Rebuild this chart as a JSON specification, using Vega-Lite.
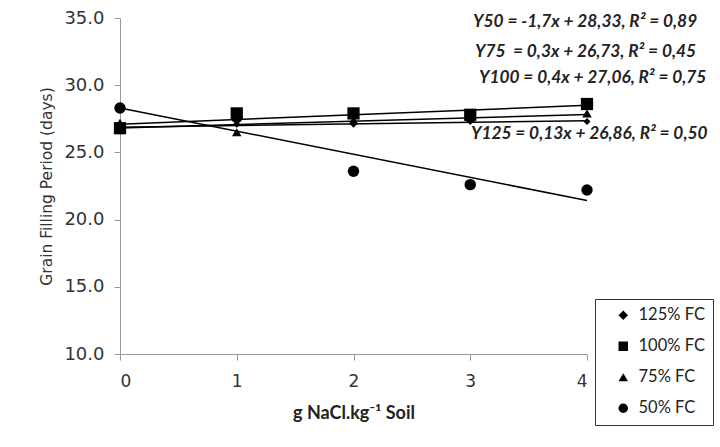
{
  "$schema": "https://vega.github.io/schema/vega-lite/v6.json",
  "autosize": "none",
  "width": 467,
  "height": 336,
  "padding": {"left": 120, "top": 18, "right": 133, "bottom": 93},
  "background": "white",
  "config": {"view": {"stroke": null}, "font": "Lato"},
  "datasets": {
    "pts": [
      {"x": 0, "y": 26.8, "s": "125% FC"},
      {"x": 1, "y": 27.1, "s": "125% FC"},
      {"x": 2, "y": 27.1, "s": "125% FC"},
      {"x": 3, "y": 27.3, "s": "125% FC"},
      {"x": 4, "y": 27.3, "s": "125% FC"},
      {"x": 0, "y": 26.8, "s": "100% FC"},
      {"x": 1, "y": 27.9, "s": "100% FC"},
      {"x": 2, "y": 27.9, "s": "100% FC"},
      {"x": 3, "y": 27.8, "s": "100% FC"},
      {"x": 4, "y": 28.6, "s": "100% FC"},
      {"x": 0, "y": 27.2, "s": "75% FC"},
      {"x": 1, "y": 26.5, "s": "75% FC"},
      {"x": 2, "y": 27.4, "s": "75% FC"},
      {"x": 3, "y": 27.6, "s": "75% FC"},
      {"x": 4, "y": 27.9, "s": "75% FC"},
      {"x": 0, "y": 28.3, "s": "50% FC"},
      {"x": 1, "y": 27.6, "s": "50% FC"},
      {"x": 2, "y": 23.6, "s": "50% FC"},
      {"x": 3, "y": 22.6, "s": "50% FC"},
      {"x": 4, "y": 22.2, "s": "50% FC"}
    ],
    "eqs": [
      {"x": 3.024, "y": 34.7, "t": "Y50 = -1,7x + 28,33, R² = 0,89"},
      {"x": 3.04, "y": 32.5, "t": "Y75 \u00a0= 0,3x + 26,73, R² = 0,45"},
      {"x": 3.075, "y": 30.5, "t": "Y100 = 0,4x + 27,06, R² = 0,75"},
      {"x": 3.006, "y": 26.4, "t": "Y125 = 0,13x + 26,86, R² = 0,50"}
    ]
  },
  "encoding": {
    "x": {
      "field": "x", "type": "quantitative",
      "scale": {"domain": [0, 4], "nice": false},
      "axis": {
        "values": [0, 1, 2, 3, 4], "format": "d", "grid": false,
        "domainColor": "#999", "tickColor": "#999", "tickSize": 6,
        "labelFontSize": 17, "labelFont": "DejaVu Sans", "labelColor": "#333", "labelPadding": 13,
        "title": "g NaCl.kg⁻¹  Soil", "titleFontSize": 18, "titleFontWeight": "bold",
        "titleFont": "Lato", "titleColor": "#222", "titlePadding": 15
      }
    },
    "y": {
      "field": "y", "type": "quantitative",
      "scale": {"domain": [10, 35], "nice": false, "zero": false},
      "axis": {
        "values": [10, 15, 20, 25, 30, 35], "format": ".1f", "grid": false,
        "domainColor": "#999", "tickColor": "#999", "tickSize": 6,
        "labelFontSize": 18, "labelFont": "DejaVu Sans", "labelColor": "#333", "labelPadding": 10,
        "title": "Grain Filling Period (days)", "titleFontSize": 15.5, "titleFontWeight": "normal",
        "titleFont": "DejaVu Sans", "titleColor": "#333", "titlePadding": 9
      }
    }
  },
  "layer": [
    {
      "data": {"name": "pts"},
      "transform": [{"regression": "y", "on": "x", "groupby": ["s"], "extent": [0, 4]}],
      "mark": {"type": "line", "color": "black", "strokeWidth": 1.5},
      "encoding": {"detail": {"field": "s"}}
    },
    {
      "data": {"name": "pts"},
      "transform": [{"filter": "datum.s == '125% FC'"}],
      "mark": {"type": "point", "filled": true, "color": "black", "opacity": 1, "size": 50},
      "encoding": {
        "shape": {
          "field": "s", "type": "nominal",
          "scale": {
            "domain": ["125% FC", "100% FC", "75% FC", "50% FC"],
            "range": ["diamond", "square", "triangle-up", "circle"]
          },
          "legend": {
            "title": null, "orient": "none", "legendX": 475, "legendY": 281,
            "strokeColor": "#333", "padding": 8, "symbolOffset": 12, "labelOffset": 7,
            "labelFontSize": 16.5, "labelFont": "Lato",
            "labelExpr": "datum.label + '\u00a0\u00a0\u00a0\u00a0\u00a0'",
            "labelColor": "#222", "rowPadding": 14, "symbolFillColor": "black",
            "symbolStrokeColor": "black", "symbolSize": 90, "symbolOpacity": 1
          }
        }
      }
    },
    {
      "data": {"name": "pts"},
      "transform": [{"filter": "datum.s == '100% FC'"}],
      "mark": {"type": "point", "filled": true, "color": "black", "opacity": 1, "size": 150},
      "encoding": {"shape": {"field": "s", "type": "nominal"}}
    },
    {
      "data": {"name": "pts"},
      "transform": [{"filter": "datum.s == '75% FC'"}],
      "mark": {"type": "point", "filled": true, "color": "black", "opacity": 1, "size": 90},
      "encoding": {"shape": {"field": "s", "type": "nominal"}}
    },
    {
      "data": {"name": "pts"},
      "transform": [{"filter": "datum.s == '50% FC'"}],
      "mark": {"type": "point", "filled": true, "color": "black", "opacity": 1, "size": 130},
      "encoding": {"shape": {"field": "s", "type": "nominal"}}
    },
    {
      "data": {"name": "eqs"},
      "mark": {"type": "text", "align": "left", "baseline": "middle", "fontStyle": "italic",
               "fontWeight": "bold", "fontSize": 17.3, "font": "Lato", "color": "#222", "clip": false},
      "encoding": {"text": {"field": "t"}}
    }
  ]
}
